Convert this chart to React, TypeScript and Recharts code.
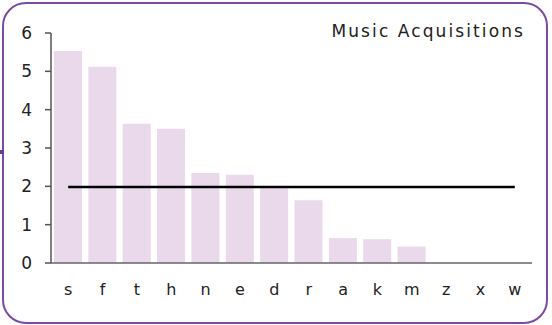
import React from "react";
import { ComposedChart, Bar, Line, XAxis, YAxis } from "recharts";

const categories = ["s", "f", "t", "h", "n", "e", "d", "r", "a", "k", "m", "z", "x", "w"];
const counts = [5.53, 5.12, 3.63, 3.5, 2.35, 2.3, 1.98, 1.64, 0.65, 0.62, 0.43, 0, 0, 0];
const averageLine = [1.98, 1.98, 1.98, 1.98, 1.98, 1.98, 1.98, 1.98, 1.98, 1.98, 1.98, 1.98, 1.98, 1.98];
const yTicks = [0, 1, 2, 3, 4, 5, 6];
const title = "Music Acquisitions";

const data = categories.map((c, i) => ({ name: c, value: counts[i], avg: averageLine[i] }));

const FONT = "'DejaVu Sans', Verdana, sans-serif";

export default function App() {
  return (
    <div style={{ position: "absolute", left: 0, top: 0, width: 552, height: 325, background: "#fff" }}>
      <div
        style={{
          position: "absolute",
          left: 2,
          top: 2,
          width: 546,
          height: 322,
          boxSizing: "border-box",
          border: "2px solid #7b4aa2",
          borderRadius: 24,
        }}
      />
      <div style={{ position: "absolute", left: 0, top: 150, width: 4, height: 4, background: "#6a3d8f" }} />
      <div
        style={{
          position: "absolute",
          right: 27,
          top: 21,
          fontFamily: FONT,
          fontSize: 17,
          letterSpacing: 2.1,
          color: "#222",
          whiteSpace: "nowrap",
          lineHeight: "20px",
        }}
      >
        {title}
      </div>
      <div style={{ position: "absolute", left: 0, top: 0 }}>
        <ComposedChart width={552} height={325} data={data} margin={{ top: 33, right: 20, bottom: 22, left: 0 }} barCategoryGap={3}>
          <XAxis
            dataKey="name"
            axisLine={{ stroke: "#666", strokeWidth: 1.5 }}
            tickLine={false}
            tickSize={0}
            tickMargin={21}
            height={40}
            interval={0}
            tick={{ fill: "#222", fontSize: 16, fontFamily: FONT }}
          />
          <YAxis
            domain={[0, 6]}
            ticks={yTicks}
            width={51}
            axisLine={{ stroke: "#555", strokeWidth: 1.5 }}
            tickLine={{ stroke: "#555", strokeWidth: 1.5 }}
            tickSize={6}
            tickMargin={13}
            tick={{ fill: "#222", fontSize: 17, fontFamily: FONT }}
          />
          <Bar dataKey="value" fill="#ead9eb" isAnimationActive={false} />
          <Line dataKey="avg" stroke="#000" strokeWidth={2.5} dot={false} isAnimationActive={false} />
        </ComposedChart>
      </div>
    </div>
  );
}
